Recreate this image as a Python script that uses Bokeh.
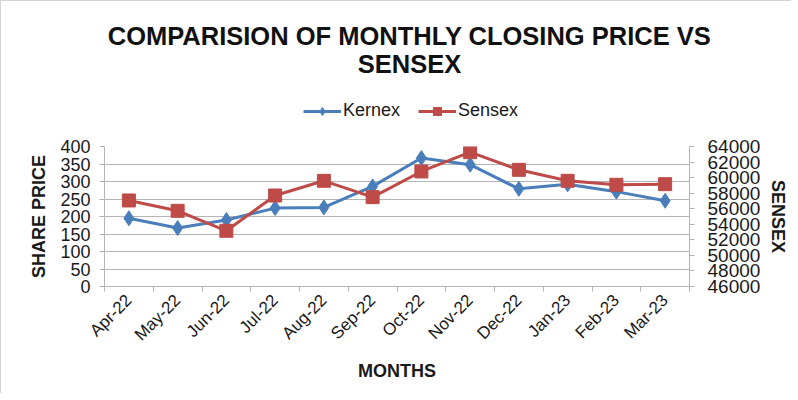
import math
from bokeh.plotting import figure
from bokeh.layouts import column
from bokeh.models import Range1d, LinearAxis, FixedTicker, Legend, LegendItem, Label
from bokeh.embed import file_html
from bokeh.resources import INLINE

months = ["Apr-22", "May-22", "Jun-22", "Jul-22", "Aug-22", "Sep-22",
          "Oct-22", "Nov-22", "Dec-22", "Jan-23", "Feb-23", "Mar-23"]
kernex = [195, 167, 190, 224, 226, 286, 367, 348, 279, 292, 271, 245]
sensex = [57060, 55730, 53160, 57700, 59590, 57490, 60790, 63270, 61000, 59590, 59080, 59160]
share_ticks = [0, 50, 100, 150, 200, 250, 300, 350, 400]
sensex_ticks = [46000, 48000, 50000, 52000, 54000, 56000, 58000, 60000, 62000, 64000]
title_lines = ["COMPARISION OF MONTHLY CLOSING PRICE VS", "SENSEX"]
series_names = ["Kernex", "Sensex"]

FONT = "Liberation Sans"
BLUE = "#4a7ebb"
RED = "#be4b48"
GRID = "#b4b4b4"
TXT = "#1a1a1a"
W = 790
TOP_H = 135
MAIN_H = 257
NAN = float("nan")

# ---------------- header figure: title + legend ----------------
head = figure(width=W, height=TOP_H, output_backend="svg", toolbar_location=None,
              x_axis_type=None, y_axis_type=None,
              x_range=Range1d(0, 1), y_range=Range1d(0, 1),
              min_border_left=0, min_border_right=0, min_border_top=0, min_border_bottom=0)
head.frame_align = False
head.outline_line_color = None
head.grid.visible = False
head.background_fill_color = "white"
head.border_fill_color = "white"

for txt, yy in zip(title_lines, [101, 73]):
    head.add_layout(Label(x=408, y=yy, x_units="screen", y_units="screen", text=txt,
                          text_align="center", text_baseline="alphabetic",
                          text_font=FONT, text_font_size="25.5px", text_font_style="bold",
                          text_color="#111111"))

# legend-only renderers (no visible data)
dkl = head.line([NAN], [NAN], line_color=BLUE, line_width=3)
dks = head.scatter([NAN], [NAN], marker="diamond", size=11, fill_color=BLUE, line_color=BLUE)
dsl = head.line([NAN], [NAN], line_color=RED, line_width=3)
dss = head.scatter([NAN], [NAN], marker="square", size=10, fill_color=RED, line_color=RED)

legend = Legend(items=[LegendItem(label=series_names[0], renderers=[dkl, dks]),
                       LegendItem(label=series_names[1], renderers=[dsl, dss])],
                orientation="horizontal", location=(302, 15),
                label_text_font=FONT, label_text_font_size="18px", label_text_color=TXT,
                glyph_width=38, glyph_height=20, label_height=20, label_standoff=2,
                spacing=18, padding=0, margin=0, border_line_color=None,
                background_fill_alpha=0)
head.add_layout(legend, "center")

# ---------------- main chart ----------------
x = list(range(len(months)))

p = figure(width=W, height=MAIN_H, output_backend="svg", toolbar_location=None,
           x_range=Range1d(-0.5, len(months) - 0.5),
           y_range=Range1d(share_ticks[0], share_ticks[-1]),
           min_border_left=103, min_border_right=97, min_border_bottom=107,
           min_border_top=10)
p.frame_align = False
p.extra_y_ranges = {"sensex": Range1d(sensex_ticks[0], sensex_ticks[-1])}
p.outline_line_color = None
p.background_fill_color = "white"
p.border_fill_color = "white"

# x axis
xa = p.xaxis[0]
xa.ticker = FixedTicker(ticks=x, minor_ticks=[i - 0.5 for i in range(len(months) + 1)])
xa.major_label_overrides = {i: m for i, m in enumerate(months)}
xa.major_label_orientation = math.pi / 4
xa.major_tick_line_color = None
xa.minor_tick_out = 5
xa.minor_tick_in = 0
xa.minor_tick_line_color = GRID
xa.axis_line_color = GRID
xa.major_label_text_font = FONT
xa.major_label_text_font_size = "17px"
xa.major_label_text_color = TXT
xa.axis_label = "MONTHS"
xa.axis_label_text_font = FONT
xa.axis_label_text_font_size = "18px"
xa.axis_label_text_font_style = "bold"
xa.axis_label_text_color = TXT
xa.axis_label_standoff = 7

# left axis
ya = p.yaxis[0]
ya.ticker = FixedTicker(ticks=share_ticks)
ya.axis_line_color = GRID
ya.major_tick_line_color = GRID
ya.major_tick_out = 5
ya.major_tick_in = 0
ya.minor_tick_line_color = None
ya.major_label_text_font = FONT
ya.major_label_text_font_size = "18px"
ya.major_label_text_color = TXT
ya.major_label_standoff = 9
ya.axis_label = "SHARE PRICE"
ya.axis_label_text_font = FONT
ya.axis_label_text_font_size = "18px"
ya.axis_label_text_font_style = "bold"
ya.axis_label_text_color = TXT
ya.axis_label_standoff = 8

# right axis
ra = LinearAxis(y_range_name="sensex", ticker=FixedTicker(ticks=sensex_ticks))
ra.axis_line_color = GRID
ra.major_tick_line_color = GRID
ra.major_tick_out = 5
ra.major_tick_in = 0
ra.minor_tick_line_color = None
ra.major_label_text_font = FONT
ra.major_label_text_font_size = "19px"
ra.major_label_text_color = TXT
ra.major_label_standoff = 13
ra.axis_label = "SENSEX"
ra.axis_label_text_font = FONT
ra.axis_label_text_font_size = "18px"
ra.axis_label_text_font_style = "bold"
ra.axis_label_text_color = TXT
ra.axis_label_standoff = 5
p.add_layout(ra, "right")

p.xgrid.grid_line_color = None
p.ygrid.ticker = FixedTicker(ticks=share_ticks)
p.ygrid.grid_line_color = GRID
p.ygrid.grid_line_width = 1

p.line(x, kernex, line_color=BLUE, line_width=3)
p.scatter(x, kernex, marker="diamond", size=15, fill_color=BLUE, line_color=BLUE)
p.line(x, sensex, line_color=RED, line_width=3, y_range_name="sensex")
p.scatter(x, sensex, marker="square", size=13, fill_color=RED, line_color=RED,
          y_range_name="sensex")

layout = column(head, p, spacing=0)
layout.styles = {"border-left": "1px solid #d4d4d4", "border-top": "1px solid #d4d4d4"}

open("out.html", "w").write(file_html(layout, INLINE))
